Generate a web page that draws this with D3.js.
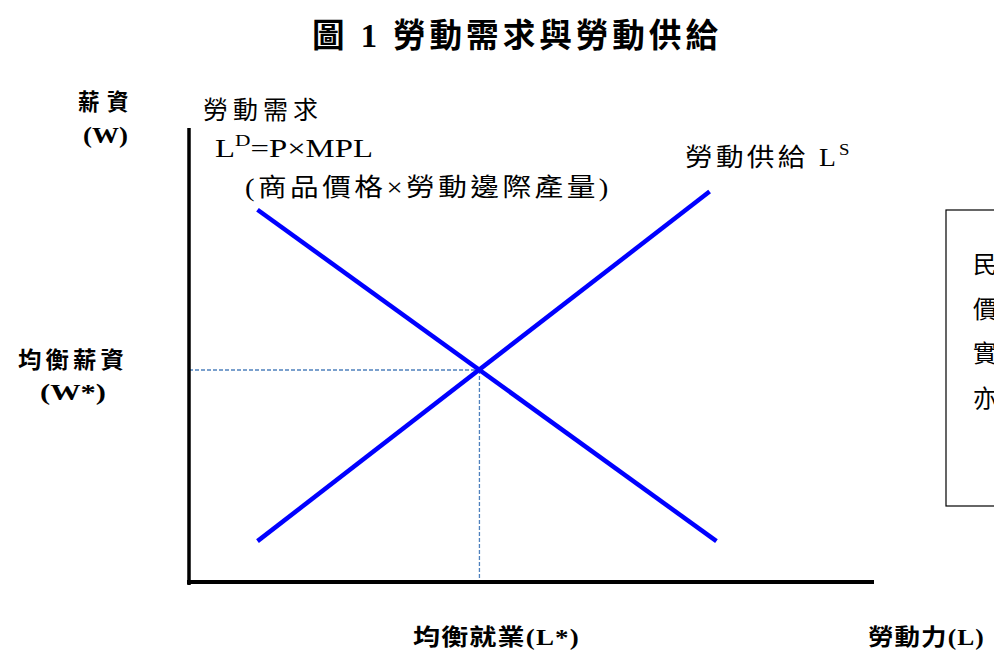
<!DOCTYPE html>
<html>
<head>
<meta charset="utf-8">
<script src="https://cdn.jsdelivr.net/npm/d3@7"></script>
<style>
  body { margin: 0; background: #fff; }
  text { font-family: "Liberation Serif", "Noto Sans CJK TC", serif; fill: #000; }
  .bold { font-weight: bold; }
</style>
</head>
<body>
<svg width="994" height="650"></svg>
<script>
// chart values
const titleText = '圖 1 勞動需求與勞動供給';
const demandPoints = [{ L: 10, W: 82 }, { L: 77, W: 9 }];
const supplyPoints = [{ L: 10, W: 9 }, { L: 76, W: 86 }];
const equilibrium = { L: 42.4, W: 46.7 };
const boxChars = ['民', '價', '實', '亦'];

const svg = d3.select('svg');

const xScale = d3.scaleLinear().domain([0, 100]).range([189, 874]);
const yScale = d3.scaleLinear().domain([0, 100]).range([582, 128]);

const line = d3.line()
  .x(d => xScale(d.L))
  .y(d => yScale(d.W));

// squeeze/stretch a text horizontally so it spans w px from x
const place = (sel, x, y, w) => {
  sel.attr('x', 0).attr('y', 0);
  const bw = sel.node().getBBox().width;
  sel.attr('transform', `translate(${x},${y}) scale(${w / bw},1)`);
  return sel;
};

// title
place(svg.append('text')
  .attr('class', 'bold')
  .attr('font-size', 33)
  .attr('letter-spacing', 4)
  .attr('xml:space', 'preserve')
  .text(titleText), 312, 47, 410);

// dashed guides
svg.append('line')
  .attr('x1', xScale(0)).attr('x2', xScale(equilibrium.L))
  .attr('y1', yScale(equilibrium.W)).attr('y2', yScale(equilibrium.W))
  .attr('stroke', '#4f81bd').attr('stroke-width', 1.3).attr('stroke-dasharray', '4,2');
svg.append('line')
  .attr('x1', xScale(equilibrium.L)).attr('x2', xScale(equilibrium.L))
  .attr('y1', yScale(equilibrium.W)).attr('y2', yScale(0))
  .attr('stroke', '#4f81bd').attr('stroke-width', 1.3).attr('stroke-dasharray', '4,2');

// axes
svg.append('line')
  .attr('x1', xScale(0)).attr('x2', xScale(0))
  .attr('y1', yScale(100)).attr('y2', yScale(0) + 3)
  .attr('stroke', '#000').attr('stroke-width', 3.5);
svg.append('line')
  .attr('x1', xScale(0) - 2).attr('x2', xScale(100))
  .attr('y1', yScale(0)).attr('y2', yScale(0))
  .attr('stroke', '#000').attr('stroke-width', 4);

// curves
svg.append('path').datum(demandPoints)
  .attr('d', line)
  .attr('fill', 'none').attr('stroke', '#0000ff').attr('stroke-width', 4.5);
svg.append('path').datum(supplyPoints)
  .attr('d', line)
  .attr('fill', 'none').attr('stroke', '#0000ff').attr('stroke-width', 4.5);

// axis labels (bold)
const boldLab = (txt, x, y, w, ls) => place(svg.append('text')
  .attr('class', 'bold').attr('font-size', 23)
  .attr('letter-spacing', ls).text(txt), x, y, w);

boldLab('薪資', 78, 110, 58, 8);
boldLab('(W)', 83, 143, 45, 0);
boldLab('均衡薪資', 18, 368, 110, 4);
boldLab('(W*)', 40, 400, 66, 0);
boldLab('均衡就業(L*)', 413, 645, 167, 1);
boldLab('勞動力(L)', 868, 645, 117, 1);

// curve labels
place(svg.append('text').attr('font-size', 25).attr('letter-spacing', 5)
  .text('勞動需求'), 203, 119, 120);

const ld = svg.append('text').attr('font-size', 26);
ld.append('tspan').text('L');
ld.append('tspan').attr('font-size', 17).attr('dy', -11).text('D');
ld.append('tspan').attr('dy', 11).text('=P×MPL');
place(ld, 215, 157, 158);

place(svg.append('text').attr('font-size', 25).attr('letter-spacing', 3)
  .text('(商品價格×勞動邊際產量)'), 245, 196, 367);

const ls = svg.append('text').attr('font-size', 25).attr('letter-spacing', 3)
  .attr('xml:space', 'preserve');
ls.append('tspan').text('勞動供給 L');
ls.append('tspan').attr('font-size', 17).attr('dy', -11).text('S');
place(ls, 685, 166, 168);

// side box
svg.append('rect')
  .attr('x', 946).attr('y', 210).attr('width', 60).attr('height', 296)
  .attr('fill', 'none').attr('stroke', '#000').attr('stroke-width', 1.2);
svg.selectAll('.boxch').data(boxChars)
  .enter().append('text')
  .attr('class', 'boxch')
  .attr('font-size', 24)
  .attr('x', 973)
  .attr('y', (d, i) => 273 + i * 44.5)
  .text(d => d);
</script>
</body>
</html>
